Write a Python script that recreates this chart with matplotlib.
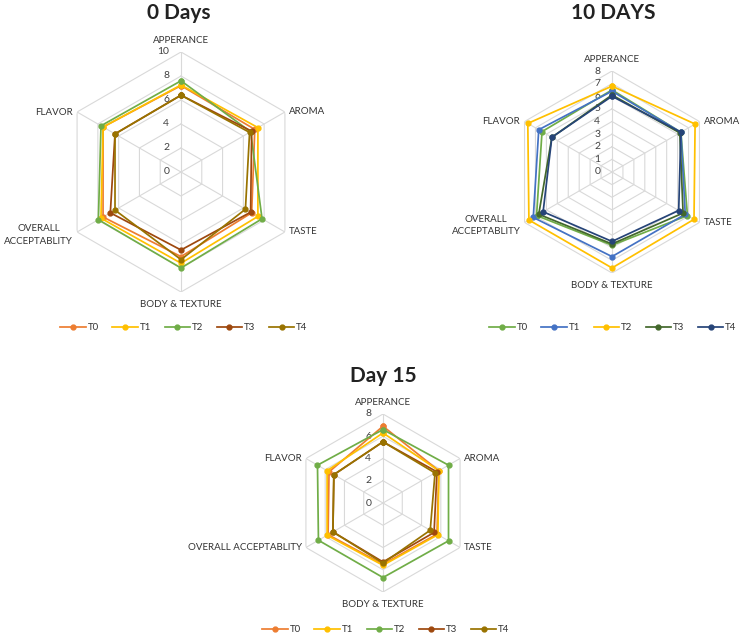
import numpy as np
import matplotlib
matplotlib.use("Agg")
import matplotlib.pyplot as plt
from matplotlib.transforms import offset_copy
from matplotlib.lines import Line2D

plt.rcParams['font.family'] = ['Lato', 'DejaVu Sans']

categories = ['APPERANCE', 'AROMA', 'TASTE', 'BODY & TEXTURE',
              'OVERALL\nACCEPTABLITY', 'FLAVOR']
categories15 = ['APPERANCE', 'AROMA', 'TASTE', 'BODY & TEXTURE',
                'OVERALL ACCEPTABLITY', 'FLAVOR']
series_names = ['T0', 'T1', 'T2', 'T3', 'T4']

# Day 0
d0_T0 = [7.2, 7.1, 6.8, 7.05, 7.5, 7.5]
d0_T1 = [7.25, 7.4, 7.4, 7.6, 7.7, 7.5]
d0_T2 = [7.6, 6.7, 7.8, 8.0, 7.95, 7.7]
d0_T3 = [6.4, 6.8, 6.7, 6.5, 6.8, 6.35]
d0_T4 = [6.4, 6.6, 6.2, 7.3, 6.35, 6.35]
d0_ticks = [0, 2, 4, 6, 8, 10]

# Day 10
d10_T0 = [6.5, 6.3, 6.9, 5.8, 6.9, 6.4]
d10_T1 = [6.4, 6.3, 6.7, 6.7, 7.2, 6.7]
d10_T2 = [6.8, 7.6, 7.5, 7.6, 7.6, 7.7]
d10_T3 = [6.1, 6.2, 6.5, 5.7, 6.7, 5.5]
d10_T4 = [6.0, 6.3, 6.1, 5.5, 6.3, 5.5]
d10_ticks = [0, 1, 2, 3, 4, 5, 6, 7, 8]

# Day 15
d15_T0 = [6.9, 5.8, 5.6, 5.5, 5.7, 5.6]
d15_T1 = [6.3, 5.8, 5.7, 5.6, 5.8, 5.8]
d15_T2 = [6.6, 6.8, 6.8, 6.7, 6.7, 6.8]
d15_T3 = [5.5, 5.6, 5.3, 5.3, 5.2, 5.1]
d15_T4 = [5.5, 5.4, 4.9, 5.4, 5.2, 5.1]
d15_ticks = [0, 2, 4, 6, 8]

colors_a = ['#ED7D31', '#FFC000', '#70AD47', '#9E480E', '#997300']
colors_b = ['#70AD47', '#4472C4', '#FFC000', '#43682B', '#264478']

W, H = 744, 636
fig = plt.figure(figsize=(W / 100, H / 100), dpi=100)


def make_ax(cx, cy, rad):
    return fig.add_axes([(cx - rad) / W, (H - cy - rad) / H, 2 * rad / W, 2 * rad / H],
                        projection='polar')


def radar(ax, cats, data, colors, ticks, one_line_left=False):
    n = len(cats)
    rmax = ticks[-1]
    theta = np.linspace(0, 2 * np.pi, n, endpoint=False)
    tc = np.append(theta, theta[0])
    ax.set_theta_offset(np.pi / 2)
    ax.set_theta_direction(-1)
    ax.set_ylim(0, rmax)
    ax.grid(False)
    ax.spines['polar'].set_visible(False)
    ax.set_xticks([])
    ax.set_yticks([])
    ax.patch.set_alpha(0)
    for t in ticks[1:]:
        ax.plot(tc, [t] * (n + 1), color='#D9D9D9', lw=0.8, zorder=1)
    for th in theta:
        ax.plot([th, th], [0, rmax], color='#D9D9D9', lw=0.8, zorder=1)
    tr = offset_copy(ax.transData, fig=fig, x=-8.5, y=0, units='points')
    for t in ticks:
        ax.text(0, t, str(t), transform=tr, ha='right', va='center',
                fontsize=7.5, color='#404040', zorder=2)
    for vals, c, name in zip(data, colors, series_names):
        v = np.append(vals, vals[0])
        ax.plot(tc, v, color=c, lw=1.25, marker='o', ms=3.5, label=name, zorder=3)
    # category labels
    fs = 7
    lc = '#333333'
    ax.text(theta[0], rmax, cats[0], ha='center', va='bottom', fontsize=fs, color=lc,
            transform=offset_copy(ax.transData, fig=fig, x=0, y=5, units='points'))
    ax.text(theta[1], rmax, cats[1], ha='left', va='center', fontsize=fs, color=lc,
            transform=offset_copy(ax.transData, fig=fig, x=3, y=0, units='points'))
    ax.text(theta[2], rmax, cats[2], ha='left', va='center', fontsize=fs, color=lc,
            transform=offset_copy(ax.transData, fig=fig, x=3, y=0, units='points'))
    ax.text(theta[3], rmax, cats[3], ha='center', va='top', fontsize=fs, color=lc,
            transform=offset_copy(ax.transData, fig=fig, x=0, y=-6, units='points'))
    ax.text(theta[4], rmax, cats[4], ha='right', va='center', fontsize=fs, color=lc,
            multialignment='center', linespacing=1.5,
            transform=offset_copy(ax.transData, fig=fig, x=-3, y=-2 if not one_line_left else 0,
                                  units='points'))
    ax.text(theta[5], rmax, cats[5], ha='right', va='center', fontsize=fs, color=lc,
            transform=offset_copy(ax.transData, fig=fig, x=-3, y=0, units='points'))


def legend(colors, cx, cy):
    handles = [Line2D([], [], color=c, lw=1.25, marker='o', ms=3.5) for c in colors]
    fig.legend(handles, series_names, loc='center', bbox_to_anchor=(cx / W, 1 - cy / H),
               ncol=5, frameon=False, fontsize=7, handlelength=2.6, handletextpad=0.2,
               columnspacing=1.4, labelcolor='#333333')


ax1 = make_ax(181, 172, 120)
radar(ax1, categories, [d0_T0, d0_T1, d0_T2, d0_T3, d0_T4], colors_a, d0_ticks)
fig.text(179 / W, 1 - 13 / H, '0 Days', ha='center', va='center', fontsize=15,
         fontweight='bold', color='#222222')
legend(colors_a, 184, 328)

ax2 = make_ax(612, 172, 101)
radar(ax2, categories, [d10_T0, d10_T1, d10_T2, d10_T3, d10_T4], colors_b, d10_ticks)
fig.text(613 / W, 1 - 13 / H, '10 DAYS', ha='center', va='center', fontsize=15,
         fontweight='bold', color='#222222')
legend(colors_b, 613, 328)

ax3 = make_ax(383, 503, 89)
radar(ax3, categories15, [d15_T0, d15_T1, d15_T2, d15_T3, d15_T4], colors_a, d15_ticks,
      one_line_left=True)
fig.text(383 / W, 1 - 376 / H, 'Day 15', ha='center', va='center', fontsize=15,
         fontweight='bold', color='#222222')
legend(colors_a, 386, 630)

fig.savefig('out.png', dpi=100)
